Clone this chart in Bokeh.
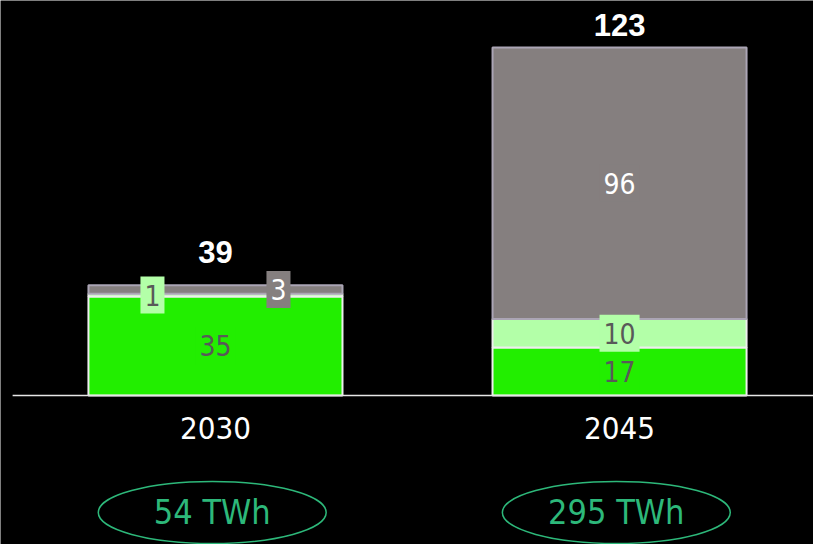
from bokeh.plotting import figure
from bokeh.models import ColumnDataSource, Range1d
from bokeh.core.properties import value
from bokeh.embed import file_html
from bokeh.resources import INLINE

# ---- data ----
years = ["2030", "2045"]
series = ["base", "light", "grey"]
base = [35, 17]
light = [1, 10]
grey = [3, 96]
energy = ["54 TWh", "295 TWh"]

# ---- styles ----
fill_colors = ["#22EE00", "#B3FFA8", "#857F7F"]
line_colors = ["#EEEEEE", "#EEEEEE", "#ABA5B5"]
label_colors = ["#595959", "#595959", "#FFFFFF"]
NUM_FONT = "Liberation Sans"
NARROW_FONT = "'DejaVu Sans Condensed', 'Liberation Sans Narrow', Roboto, sans-serif"

xs = list(range(len(years)))
totals = [b + l + g for b, l, g in zip(base, light, grey)]

X0, X1 = -0.532, 1.480
p = figure(width=813, height=544, output_backend="svg", toolbar_location=None,
           x_range=Range1d(X0, X1), y_range=Range1d(-52.66, 139.6),
           min_border=0, min_border_left=0, min_border_right=0, min_border_top=0,
           min_border_bottom=0,
           background_fill_color="black", border_fill_color="black", outline_line_color=None)
p.axis.visible = False
p.grid.visible = False

src = ColumnDataSource(dict(x=xs, base=base, light=light, grey=grey))
p.vbar_stack(series, x="x", width=0.6287, source=src,
             fill_color=fill_colors, line_color=line_colors, line_width=2)

# baseline
p.segment(x0=[X0 + 0.03], y0=[0], x1=[X1], y1=[0], line_color="#E6E6E6", line_width=1.5)

# segment labels
lx, ly, lt, lc, lb = [], [], [], [], []
stacks = [base, light, grey]
for i in xs:
    bottom = 0
    for s, vals in enumerate(stacks):
        v = vals[i]
        lx.append(i)
        ly.append(bottom + v / 2)
        lt.append(str(v))
        lc.append(label_colors[s])
        lb.append(fill_colors[s])
        bottom += v
# horizontal nudges for thin segments (style)
lo = [0, -63, 63, 0, 0, 0]
lsrc = ColumnDataSource(dict(x=lx, y=ly, text=lt, color=lc, bg=lb, xo=lo))
p.text(x="x", y="y", text="text", source=lsrc, text_color="color",
       text_align="center", text_baseline="middle", x_offset="xo",
       text_font=value(NARROW_FONT), text_font_size="28px",
       background_fill_color="bg", padding=(4, 4, 8, 8))

# totals
tsrc = ColumnDataSource(dict(x=xs, y=totals, text=[str(t) for t in totals], yo=[-22, -11]))
p.text(x="x", y="y", text="text", source=tsrc, text_color="white",
       text_align="center", text_baseline="bottom", y_offset="yo",
       text_font=value(NUM_FONT), text_font_style="bold", text_font_size="31px")

# category labels
p.text(x=xs, y=[-11.66] * 2, text=years, text_color="white", text_align="center",
       text_baseline="middle", text_font=value(NARROW_FONT), text_font_size="31px")

# energy ellipses
ex = [x - 0.008 for x in xs]
p.ellipse(x=ex, y=[-41.35] * 2, width=0.564, height=21.9,
          fill_color=None, line_color="#2DB87A", line_width=1.5)
p.text(x=ex, y=[-41.35] * 2, text=energy, text_color="#2DB87A",
       text_align="center", text_baseline="middle", text_font=value(NARROW_FONT),
       text_font_size="34px")

open("out.html", "w").write(file_html(p, INLINE))
